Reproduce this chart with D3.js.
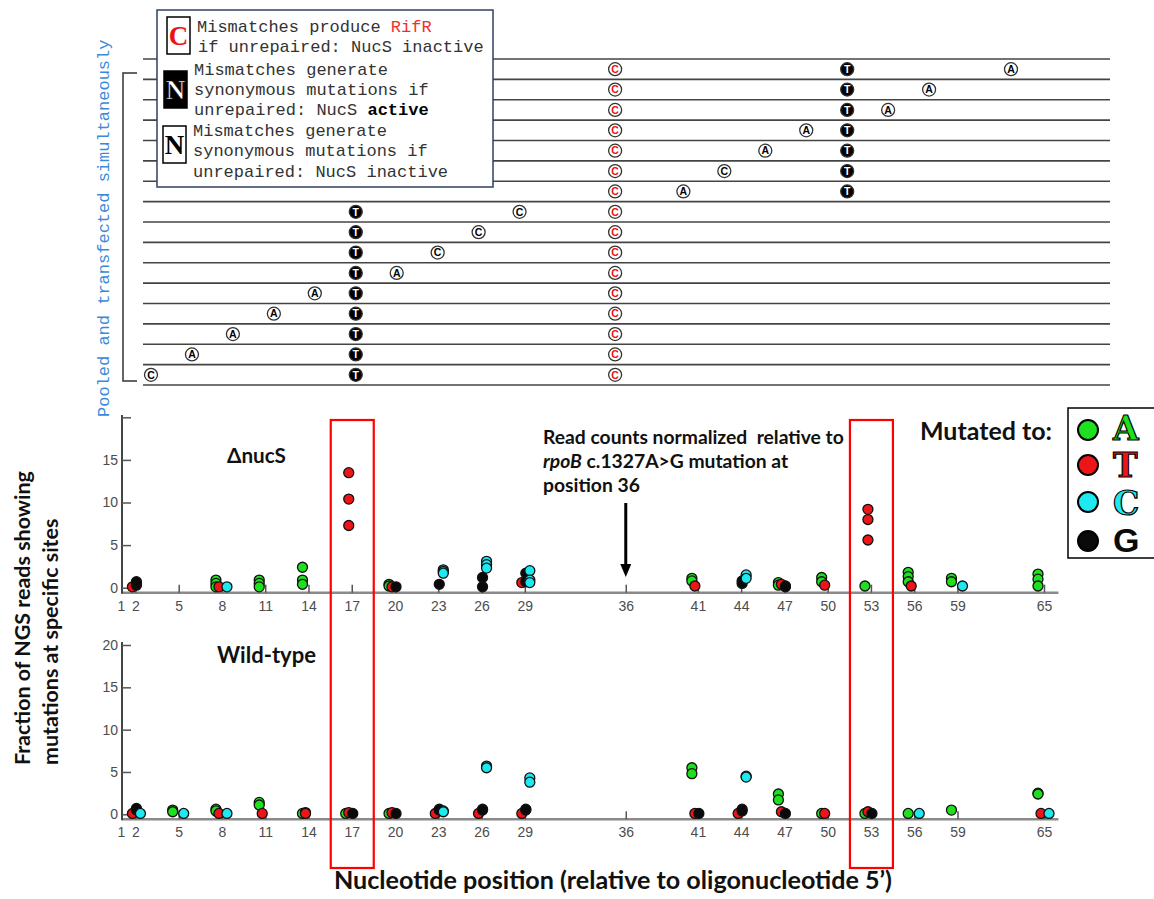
<!DOCTYPE html>
<html>
<head>
<meta charset="utf-8">
<title>NGS reads at mismatch sites</title>
<style>
  body { margin: 0; background: #fff; }
  .tick text { font-family: "Liberation Sans", Arial, sans-serif; font-size: 14px; fill: #4d4d4d; }
  .bold-cal { font-family: Lato, "Open Sans", sans-serif; font-weight: bold; fill: #111; }
  .mono { font-family: "Liberation Mono", "Courier New", monospace; font-size: 17px; fill: #333; }
</style>
</head>
<body>
<svg id="chart" width="1154" height="899"></svg>
<script src="https://cdn.jsdelivr.net/npm/d3@7"></script>
<script>
// ---- data ----
var tickPositions = [1, 2, 5, 8, 11, 14, 17, 20, 23, 26, 29, 36, 41, 44, 47, 50, 53, 56, 59, 65];
var yTicks = [0, 5, 10, 15, 20];
var boxedPositions = [17, 53];
var arrowPosition = 36;

// oligo schematic, one entry per oligo (top to bottom)
var oligoVariant = [65, 59, 56, 50, 47, 44, 41, 29, 26, 23, 20, 14, 11, 8, 5, 2];
var oligoVariantBase = ["A", "A", "A", "A", "A", "C", "A", "C", "C", "C", "A", "A", "A", "A", "A", "C"];
var oligoMarker = [53, 53, 53, 53, 53, 53, 53, 17, 17, 17, 17, 17, 17, 17, 17, 17];
var rifSite = 36;

// [position, fraction] for each mutated-to base, ΔnucS
var nucsA = [[8,0.9],[8,0.5],[8,0.1],[11,0.9],[11,0.5],[11,0.1],[14,2.4],[14,0.9],[14,0.4],[20,0.4],[20,0.2],
  [41,1.1],[41,0.8],[47,0.6],[47,0.3],[50,1.2],[50,0.7],[53,0.2],[56,1.8],[56,1.3],[56,0.7],[59,1.1],[59,0.7],
  [65,1.6],[65,1.0],[65,0.2]];
var nucsT = [[2,0.1],[8,0.1],[17,13.5],[17,10.4],[17,7.3],[20,0.1],[29,0.6],[41,0.2],[47,0.4],[50,0.3],
  [53,9.2],[53,8.0],[53,5.6],[56,0.2]];
var nucsC = [[8,0.1],[23,2.1],[23,1.9],[23,1.7],[26,3.1],[26,2.7],[26,2.3],[29,2.0],[29,0.9],[29,0.6],
  [44,1.5],[44,1.1],[59,0.2]];
var nucsG = [[2,0.3],[2,0.5],[2,0.7],[20,0.1],[23,0.4],[26,1.2],[26,0.1],[29,1.7],[29,0.7],[44,0.8],[44,0.5],
  [47,0.2],[47,0.1]];

// wild-type
var wtA = [[5,0.5],[5,0.3],[8,0.6],[8,0.4],[11,1.4],[11,1.1],[14,0.1],[17,0.1],[20,0.1],[41,5.5],[41,4.8],
  [47,2.4],[47,1.7],[50,0.1],[53,0.1],[56,0.1],[59,0.5],[65,2.5],[65,2.4]];
var wtT = [[2,0.1],[8,0.1],[11,0.1],[14,0.2],[14,0.1],[17,0.2],[20,0.2],[23,0.1],[26,0.1],[29,0.1],[41,0.1],
  [44,0.1],[47,0.3],[50,0.1],[53,0.3],[65,0.1]];
var wtC = [[2,0.1],[5,0.1],[8,0.1],[23,0.4],[23,0.3],[26,5.7],[26,5.5],[29,4.3],[29,3.8],[44,4.5],[44,4.4],
  [56,0.1],[65,0.1]];
var wtG = [[2,0.5],[2,0.7],[17,0.1],[20,0.1],[23,0.6],[23,0.5],[26,0.6],[26,0.5],[29,0.5],[29,0.6],[41,0.1],
  [44,0.6],[44,0.4],[47,0.1],[53,0.1]];

var baseNames = ["A", "T", "C", "G"];
var baseColors = {A: "#1ee01e", T: "#ee1518", C: "#1ee8f0", G: "#0a0a0a"};
var baseShift = {A: -6, T: -3, G: 1, C: 5};   // small side-by-side offset inside a position

var svg = d3.select("#chart");

// shrink/grow a text's font so it spans a given width
function fit(sel, w) {
  var fs = parseFloat(sel.attr("font-size"));
  var len = sel.node().getComputedTextLength();
  sel.attr("font-size", (fs * w / len).toFixed(2));
  return sel;
}

// ---- oligo schematic ----
var topX = d3.scaleLinear().domain([2, 65]).range([151, 1011]);
var rowBand = d3.scaleBand().domain(d3.range(oligoVariant.length)).range([59, 385]);
var bw = rowBand.bandwidth();

var schem = svg.append("g");
schem.selectAll("line")
  .data(d3.range(oligoVariant.length + 1))
  .enter().append("line")
  .attr("x1", 143).attr("x2", 1110)
  .attr("y1", function(i) { return 59 + i * bw; })
  .attr("y2", function(i) { return 59 + i * bw; })
  .attr("stroke", "#444").attr("stroke-width", 1.6);

var marks = [];
oligoVariant.forEach(function(p, i) {
  marks.push({row: i, pos: rifSite, base: "C", kind: "rif"});
  marks.push({row: i, pos: oligoMarker[i], base: "T", kind: "marker"});
  marks.push({row: i, pos: p, base: oligoVariantBase[i], kind: "variant"});
});

var mk = schem.selectAll("g.mark")
  .data(marks)
  .enter().append("g")
  .attr("class", "mark")
  .attr("transform", function(d) {
    return "translate(" + topX(d.pos) + "," + (rowBand(d.row) + bw / 2) + ")";
  });
mk.append("circle")
  .attr("r", 6.5)
  .attr("fill", function(d) { return d.kind == "marker" ? "#000" : "#fff"; })
  .attr("stroke", "#333").attr("stroke-width", 1.3);
mk.append("text")
  .attr("text-anchor", "middle").attr("dy", "0.36em")
  .attr("font-family", "Liberation Sans, Arial, sans-serif")
  .attr("font-weight", "bold").attr("font-size", 10.5)
  .attr("fill", function(d) { return d.kind == "rif" ? "#f01010" : (d.kind == "marker" ? "#fff" : "#000"); })
  .text(function(d) { return d.base; });

// bracket + blue note
schem.append("path")
  .attr("d", "M137,73 H123 V381 H137")
  .attr("fill", "none").attr("stroke", "#333").attr("stroke-width", 1.5);
svg.append("text")
  .attr("class", "mono")
  .attr("transform", "translate(109,417) rotate(-90)")
  .style("fill", "#3b8ad9")
  .text("Pooled and transfected simultaneously");

// legend box of the schematic
var lg = svg.append("g");
lg.append("rect").attr("x", 157).attr("y", 10).attr("width", 336).attr("height", 177)
  .attr("fill", "#fff").attr("stroke", "#2f4060").attr("stroke-width", 1.5);

var keyBoxes = [
  {x: 167, y: 17, letter: "C", fill: "#fff", color: "#f01010"},
  {x: 164, y: 71, letter: "N", fill: "#000", color: "#fff"},
  {x: 163, y: 126, letter: "N", fill: "#fff", color: "#000"}
];
keyBoxes.forEach(function(k) {
  lg.append("rect").attr("x", k.x).attr("y", k.y).attr("width", 23).attr("height", 37)
    .attr("fill", k.fill).attr("stroke", "#000").attr("stroke-width", 1.5);
  lg.append("text").attr("x", k.x + 11.5).attr("y", k.y + 28)
    .attr("text-anchor", "middle")
    .attr("font-family", "Liberation Serif, Times New Roman, serif")
    .attr("font-weight", "bold").attr("font-size", 27)
    .attr("fill", k.color)
    .attr("stroke", k.letter == "N" && k.fill == "#000" ? "#000" : "none")
    .attr("stroke-width", 0.6)
    .text(k.letter);
});

var t1 = lg.append("text").attr("class", "mono").attr("x", 197).attr("y", 32);
t1.append("tspan").text("Mismatches produce ");
t1.append("tspan").style("fill", "#f03030").text("RifR");
lg.append("text").attr("class", "mono").attr("x", 198).attr("y", 52).text("if unrepaired: NucS inactive");
lg.append("text").attr("class", "mono").attr("x", 194).attr("y", 75).text("Mismatches generate");
lg.append("text").attr("class", "mono").attr("x", 194).attr("y", 95).text("synonymous mutations if");
var t2 = lg.append("text").attr("class", "mono").attr("x", 194).attr("y", 115);
t2.append("tspan").text("unrepaired: NucS ");
t2.append("tspan").attr("font-weight", "bold").style("fill", "#000").text("active");
lg.append("text").attr("class", "mono").attr("x", 193).attr("y", 136).text("Mismatches generate");
lg.append("text").attr("class", "mono").attr("x", 193).attr("y", 156).text("synonymous mutations if");
lg.append("text").attr("class", "mono").attr("x", 193).attr("y", 177).text("unrepaired: NucS inactive");

// ---- scatter panels ----
var x = d3.scaleLinear().domain([1, 65]).range([121, 1044]);

var panels = [
  {title: "\u0394nucS", tx: 227, ty: 463, tw: 59, series: {A: nucsA, T: nucsT, C: nucsC, G: nucsG},
   y: d3.scaleLinear().domain([0, 20]).range([587.7, 417.3]), top: 415, label20: false},
  {title: "Wild-type", tx: 217, ty: 663, tw: 99, series: {A: wtA, T: wtT, C: wtC, G: wtG},
   y: d3.scaleLinear().domain([0, 20]).range([814.3, 645]), top: 642, label20: true}
];

panels.forEach(function(p) {
  var g = svg.append("g");
  var base = p.y(0) + 5;

  // x axis
  g.append("line").attr("x1", x(1) + 1).attr("x2", x(66))
    .attr("y1", base).attr("y2", base)
    .attr("stroke", "#8a8a8a").attr("stroke-width", 2.5);
  var xa = g.append("g")
    .attr("transform", "translate(0," + base + ")")
    .call(d3.axisBottom(x).tickValues(tickPositions).tickSize(-8).tickPadding(8).tickFormat(d3.format("d")));
  xa.select(".domain").remove();
  xa.selectAll(".tick line").attr("stroke", "#555").attr("stroke-width", 1.5);
  xa.selectAll(".tick").filter(function(d) { return d == 1; }).select("line").remove();

  // y axis
  g.append("line").attr("x1", x(1) + 1).attr("x2", x(1) + 1)
    .attr("y1", p.top).attr("y2", base + 1)
    .attr("stroke", "#444").attr("stroke-width", 2);
  var ya = g.append("g")
    .attr("transform", "translate(" + (x(1) + 1) + ",0)")
    .call(d3.axisLeft(p.y).tickValues(yTicks).tickSize(-9).tickPadding(4)
      .tickFormat(function(d) { return (d == 20 && !p.label20) ? "" : d; }));
  ya.select(".domain").remove();
  ya.selectAll(".tick line").attr("stroke", "#555").attr("stroke-width", 1.5);

  // points
  ["A", "T", "G", "C"].forEach(function(b) {
    g.append("g").selectAll("circle")
      .data(p.series[b])
      .enter().append("circle")
      .attr("cx", function(d) { return x(d[0]) + baseShift[b]; })
      .attr("cy", function(d) { return p.y(d[1]); })
      .attr("r", 5)
      .attr("fill", baseColors[b])
      .attr("stroke", "#111").attr("stroke-width", 1.3);
  });

  fit(g.append("text").attr("class", "bold-cal")
    .attr("x", p.tx).attr("y", p.ty).attr("font-size", 20).text(p.title), p.tw);
});

// red boxes over both panels
svg.selectAll("rect.hl")
  .data(boxedPositions)
  .enter().append("rect")
  .attr("class", "hl")
  .attr("x", function(d) { return x(d) - 21; })
  .attr("y", 420).attr("width", 43).attr("height", 448)
  .attr("fill", "none").attr("stroke", "#f00").attr("stroke-width", 2.2);

// arrow + note
var ax = x(arrowPosition);
svg.append("line").attr("x1", ax).attr("x2", ax).attr("y1", 503).attr("y2", 566)
  .attr("stroke", "#000").attr("stroke-width", 3);
svg.append("path")
  .attr("d", "M" + (ax - 5.5) + ",564 L" + (ax + 5.5) + ",564 L" + ax + ",577 Z")
  .attr("fill", "#000");

var n1 = svg.append("text").attr("class", "bold-cal").attr("x", 543).attr("y", 444).attr("font-size", 15)
  .text("Read counts normalized  relative to").attr("xml:space", "preserve").style("white-space", "pre");
fit(n1, 301);
var nfs = n1.attr("font-size");
var n2 = svg.append("text").attr("class", "bold-cal").attr("x", 543).attr("y", 468).attr("font-size", nfs);
n2.append("tspan").attr("font-style", "italic").text("rpoB");
n2.append("tspan").text(" c.1327A>G mutation at");
svg.append("text").attr("class", "bold-cal").attr("x", 543).attr("y", 492).attr("font-size", nfs)
  .text("position 36");

// "Mutated to" legend
fit(svg.append("text").attr("class", "bold-cal").attr("x", 920).attr("y", 440).attr("font-size", 20)
  .text("Mutated to:"), 132);
svg.append("rect").attr("x", 1068).attr("y", 408).attr("width", 100).attr("height", 150)
  .attr("fill", "#fff").attr("stroke", "#000").attr("stroke-width", 1.5);
var legY = [430, 465, 502, 541];
var legBase = [440, 477, 515, 552];
var li = svg.selectAll("g.leg")
  .data(baseNames)
  .enter().append("g").attr("class", "leg");
li.append("circle")
  .attr("cx", 1088).attr("cy", function(d, i) { return legY[i]; })
  .attr("r", 10)
  .attr("fill", function(d) { return baseColors[d]; })
  .attr("stroke", "#000").attr("stroke-width", 2);
li.append("text")
  .attr("x", 1113).attr("y", function(d, i) { return legBase[i]; })
  .attr("font-family", function(d) { return d == "G" ? "Liberation Sans, Arial, sans-serif" : "DejaVu Serif, serif"; })
  .attr("font-weight", "bold")
  .attr("font-size", function(d) { return d == "G" ? 34 : 33; })
  .attr("fill", function(d) { return baseColors[d]; })
  .attr("stroke", "#000").attr("stroke-width", function(d) { return d == "G" ? 0 : 1.2; })
  .text(function(d) { return d; });

// axis titles
fit(svg.append("text").attr("class", "bold-cal").attr("x", 613).attr("y", 889)
  .attr("text-anchor", "middle").attr("font-size", 18)
  .text("Nucleotide position (relative to oligonucleotide 5\u2019)"), 558);
var yl = fit(svg.append("text").attr("class", "bold-cal").attr("transform", "translate(30,765) rotate(-90)")
  .attr("font-size", 19).text("Fraction of NGS reads showing"), 294);
svg.append("text").attr("class", "bold-cal").attr("transform", "translate(58,765) rotate(-90)")
  .attr("font-size", yl.attr("font-size")).text("mutations at specific sites");
</script>
</body>
</html>
